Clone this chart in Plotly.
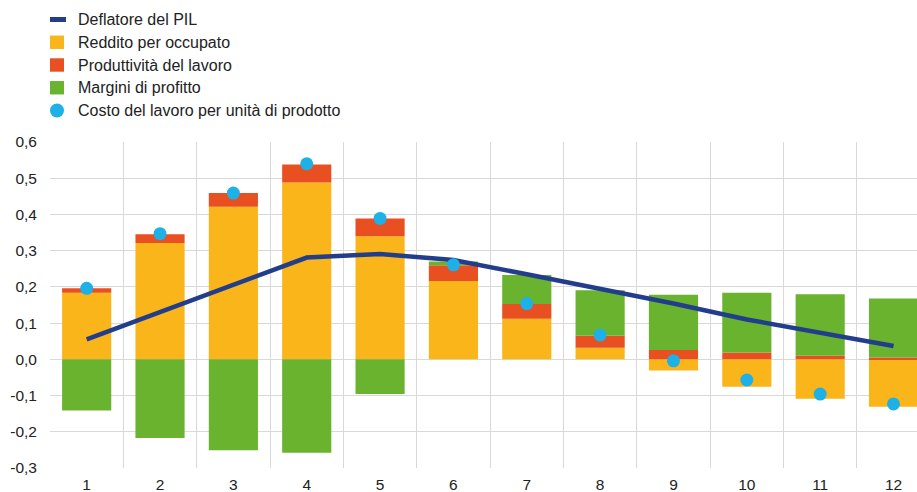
import plotly.graph_objects as go

categories = [1, 2, 3, 4, 5, 6, 7, 8, 9, 10, 11, 12]
cat_labels = ["1", "2", "3", "4", "5", "6", "7", "8", "9", "10", "11", "12"]

deflatore = [0.055, 0.130, 0.206, 0.281, 0.291, 0.274, 0.235, 0.196, 0.154, 0.110, 0.072, 0.037]
reddito = [0.184, 0.321, 0.421, 0.488, 0.340, 0.216, 0.112, 0.032, -0.031, -0.076, -0.109, -0.131]
produttivita = [0.012, 0.024, 0.038, 0.050, 0.049, 0.044, 0.041, 0.033, 0.026, 0.019, 0.010, 0.005]
margini = [-0.141, -0.217, -0.251, -0.258, -0.096, 0.010, 0.080, 0.126, 0.152, 0.165, 0.170, 0.163]
clup = [0.196, 0.347, 0.459, 0.540, 0.389, 0.261, 0.154, 0.067, -0.004, -0.057, -0.096, -0.123]

y_tickvals = [-0.3, -0.2, -0.1, 0.0, 0.1, 0.2, 0.3, 0.4, 0.5, 0.6]
y_ticktext = ["-0,3", "-0,2", "-0,1", "0,0", "0,1", "0,2", "0,3", "0,4", "0,5", "0,6"]

legend_names = ["Deflatore del PIL", "Reddito per occupato", "Produttività del lavoro",
                "Margini di profitto", "Costo del lavoro per unità di prodotto"]

NAVY = "#233D8D"
YELLOW = "#F9B51A"
RED = "#E85021"
GREEN = "#69B32F"
CYAN = "#1DB1E7"
legend_colors = [NAVY, YELLOW, RED, GREEN, CYAN]
legend_kinds = ["line", "square", "square", "square", "circle"]

FONT = "Liberation Sans, Arial, sans-serif"

W, H = 917, 492
ML, MR, MT, MB = 50, 0, 142, 24
PW, PH = W - ML - MR, H - MT - MB

fig = go.Figure()

fig.add_trace(go.Bar(x=categories, y=reddito, name=legend_names[1],
                     marker=dict(color=YELLOW, line=dict(width=0))))
fig.add_trace(go.Bar(x=categories, y=produttivita, name=legend_names[2],
                     marker=dict(color=RED, line=dict(width=0))))
fig.add_trace(go.Bar(x=categories, y=margini, name=legend_names[3],
                     marker=dict(color=GREEN, line=dict(width=0))))
fig.add_trace(go.Scatter(x=categories, y=deflatore, mode="lines", name=legend_names[0],
                         line=dict(color=NAVY, width=4.5)))
fig.add_trace(go.Scatter(x=categories, y=clup, mode="markers", name=legend_names[4],
                         marker=dict(color=CYAN, size=13)))

# manual legend (real text annotations + symbol shapes)
row_y0, row_step = 19.5, 22.75
sym_x = 57
text_x = 76
for i, (name, col, kind) in enumerate(zip(legend_names, legend_colors, legend_kinds)):
    cy = row_y0 + i * row_step
    py = (H - MB - cy) / PH
    px_sym = (sym_x - ML) / PW
    if kind == "line":
        x0, x1, y0, y1 = -7, 9, -2.5, 2.5
        stype = "rect"
    elif kind == "square":
        x0, x1, y0, y1 = -7, 7, -6.7, 6.7
        stype = "rect"
    else:
        x0, x1, y0, y1 = -7, 7, -7, 7
        stype = "circle"
    fig.add_shape(type=stype, xref="paper", yref="paper",
                  xsizemode="pixel", ysizemode="pixel", xanchor=px_sym, yanchor=py,
                  x0=x0, x1=x1, y0=y0, y1=y1,
                  fillcolor=col, line=dict(width=0), layer="above")
    fig.add_annotation(x=(text_x - ML) / PW, y=py, xref="paper", yref="paper",
                       text=name, showarrow=False, xanchor="left", yanchor="middle",
                       font=dict(family=FONT, size=16, color="#222222"))

grid = "#D9D9D9"
fig.update_layout(
    width=W, height=H,
    margin=dict(l=ML, r=MR, t=MT, b=MB, autoexpand=False),
    paper_bgcolor="white", plot_bgcolor="white",
    barmode="relative", bargap=0.33,
    font=dict(family=FONT, size=15.5, color="#222222"),
    showlegend=False,
    xaxis=dict(range=[0.5, 12.32], tickmode="array", tickvals=categories, ticktext=cat_labels,
               showgrid=False, zeroline=False, showline=False, ticks="", automargin=False,
               ticklabelstandoff=5,
               minor=dict(tickmode="array", tickvals=[c - 0.5 for c in categories] + [12.5],
                          showgrid=True, gridcolor=grid, gridwidth=1, ticks="")),
    yaxis=dict(range=[-0.3, 0.6], tickmode="array", tickvals=y_tickvals, ticktext=y_ticktext,
               showgrid=True, gridcolor=grid, gridwidth=1, zeroline=False, showline=False,
               ticks="", ticklabelstandoff=12, automargin=False),
)

fig.write_html("out.html", config={"displayModeBar": False},
               post_script="document.body.style.margin='0px';")
